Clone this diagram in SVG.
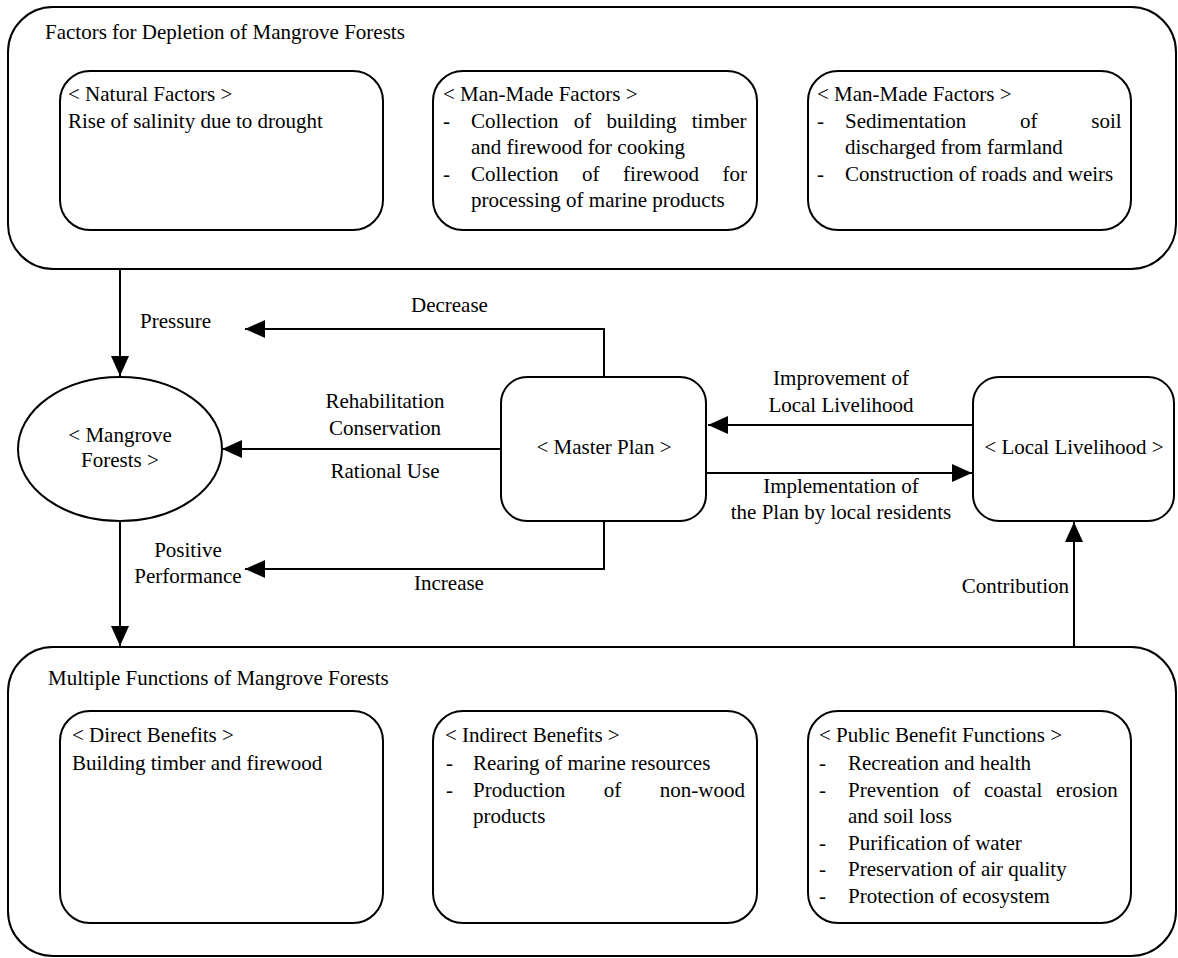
<svg xmlns="http://www.w3.org/2000/svg" width="1178" height="958" viewBox="0 0 1178 958">
<style>
text{font-family:"Liberation Serif","Times New Roman",serif;font-size:21px;fill:#000}
.c{text-anchor:middle}
.e{text-anchor:end}
.box{fill:#fff;stroke:#000;stroke-width:2}
.ln{fill:none;stroke:#000;stroke-width:2}
</style>
<defs>
<marker id="ah" markerUnits="userSpaceOnUse" markerWidth="20" markerHeight="18" refX="20" refY="9" orient="auto">
<path d="M0,0 L20,9 L0,18 Z" fill="#000"/>
</marker>
</defs>
<rect width="1178" height="958" fill="#fff"/>

<g id="depletion">
<rect class="box" x="8" y="7" width="1168" height="262" rx="45" ry="45"/>
<text x="45" y="39">Factors for Depletion of Mangrove Forests</text>
</g>
<g id="natural-factors">
<rect class="box" x="60" y="71" width="323" height="159" rx="30" ry="30"/>
<text x="68" y="101">&lt; Natural Factors &gt;</text>
<text x="68" y="128">Rise of salinity due to drought</text>
</g>
<g id="man-made-1">
<rect class="box" x="433" y="71" width="324" height="159" rx="30" ry="30"/>
<text x="443" y="101">&lt; Man-Made Factors &gt;</text>
<text x="443" y="128">-</text>
<text x="471" y="128" word-spacing="10">Collection of building timber</text>
<text x="471" y="154">and firewood for cooking</text>
<text x="443" y="181">-</text>
<text x="471" y="181" word-spacing="18.3">Collection of firewood for</text>
<text x="471" y="207">processing of marine products</text>
</g>
<g id="man-made-2">
<rect class="box" x="808" y="71" width="323" height="159" rx="30" ry="30"/>
<text x="817" y="101">&lt; Man-Made Factors &gt;</text>
<text x="817" y="128">-</text>
<text x="845" y="128" word-spacing="48.5">Sedimentation of soil</text>
<text x="845" y="154">discharged from farmland</text>
<text x="817" y="181">-</text>
<text x="845" y="181">Construction of roads and weirs</text>
</g>

<g id="mangrove-forests">
<ellipse class="box" cx="120" cy="449" rx="102" ry="72"/>
<text class="c" x="120" y="442">&lt; Mangrove</text>
<text class="c" x="120" y="467">Forests &gt;</text>
</g>
<g id="master-plan">
<rect class="box" x="501" y="377" width="205" height="144" rx="26" ry="26"/>
<text class="c" x="604" y="454">&lt; Master Plan &gt;</text>
</g>
<g id="local-livelihood">
<rect class="box" x="973" y="377" width="201" height="144" rx="26" ry="26"/>
<text class="c" x="1074" y="454">&lt; Local Livelihood &gt;</text>
</g>

<g id="functions">
<rect class="box" x="8" y="647" width="1168" height="309" rx="45" ry="45"/>
<text x="48" y="685">Multiple Functions of Mangrove Forests</text>
</g>
<g id="direct-benefits">
<rect class="box" x="60" y="711" width="323" height="212" rx="30" ry="30"/>
<text x="72" y="742">&lt; Direct Benefits &gt;</text>
<text x="72" y="770">Building timber and firewood</text>
</g>
<g id="indirect-benefits">
<rect class="box" x="433" y="711" width="324" height="212" rx="30" ry="30"/>
<text x="445" y="742">&lt; Indirect Benefits &gt;</text>
<text x="446" y="770">-</text>
<text x="473" y="770">Rearing of marine resources</text>
<text x="446" y="797">-</text>
<text x="473" y="797" word-spacing="33.3">Production of non-wood</text>
<text x="473" y="823">products</text>
</g>
<g id="public-benefits">
<rect class="box" x="808" y="711" width="323" height="212" rx="30" ry="30"/>
<text x="819" y="742">&lt; Public Benefit Functions &gt;</text>
<text x="819" y="770">-</text>
<text x="848" y="770">Recreation and health</text>
<text x="819" y="797">-</text>
<text x="848" y="797" word-spacing="8.5">Prevention of coastal erosion</text>
<text x="848" y="823">and soil loss</text>
<text x="819" y="850">-</text>
<text x="848" y="850">Purification of water</text>
<text x="819" y="876">-</text>
<text x="848" y="876">Preservation of air quality</text>
<text x="819" y="903">-</text>
<text x="848" y="903">Protection of ecosystem</text>
</g>

<g id="connectors">
<line class="ln" x1="120" y1="269" x2="120" y2="376" marker-end="url(#ah)"/>
<polyline class="ln" points="604,377 604,329 245,329" marker-end="url(#ah)"/>
<line class="ln" x1="501" y1="449" x2="222" y2="449" marker-end="url(#ah)"/>
<polyline class="ln" points="604,521 604,569 245,569" marker-end="url(#ah)"/>
<line class="ln" x1="120" y1="521" x2="120" y2="646" marker-end="url(#ah)"/>
<line class="ln" x1="973" y1="425" x2="708" y2="425" marker-end="url(#ah)"/>
<line class="ln" x1="706" y1="473" x2="972" y2="473" marker-end="url(#ah)"/>
<line class="ln" x1="1074" y1="647" x2="1074" y2="522" marker-end="url(#ah)"/>
<text x="140" y="328">Pressure</text>
<text x="411" y="312">Decrease</text>
<text class="c" x="385" y="408">Rehabilitation</text>
<text class="c" x="385" y="435">Conservation</text>
<text class="c" x="385" y="478">Rational Use</text>
<text class="c" x="188" y="557">Positive</text>
<text class="c" x="188" y="583">Performance</text>
<text x="414" y="590">Increase</text>
<text class="c" x="841" y="385">Improvement of</text>
<text class="c" x="841" y="412">Local Livelihood</text>
<text class="c" x="841" y="493">Implementation of</text>
<text class="c" x="841" y="519">the Plan by local residents</text>
<text class="e" x="1069" y="593">Contribution</text>
</g>
</svg>
